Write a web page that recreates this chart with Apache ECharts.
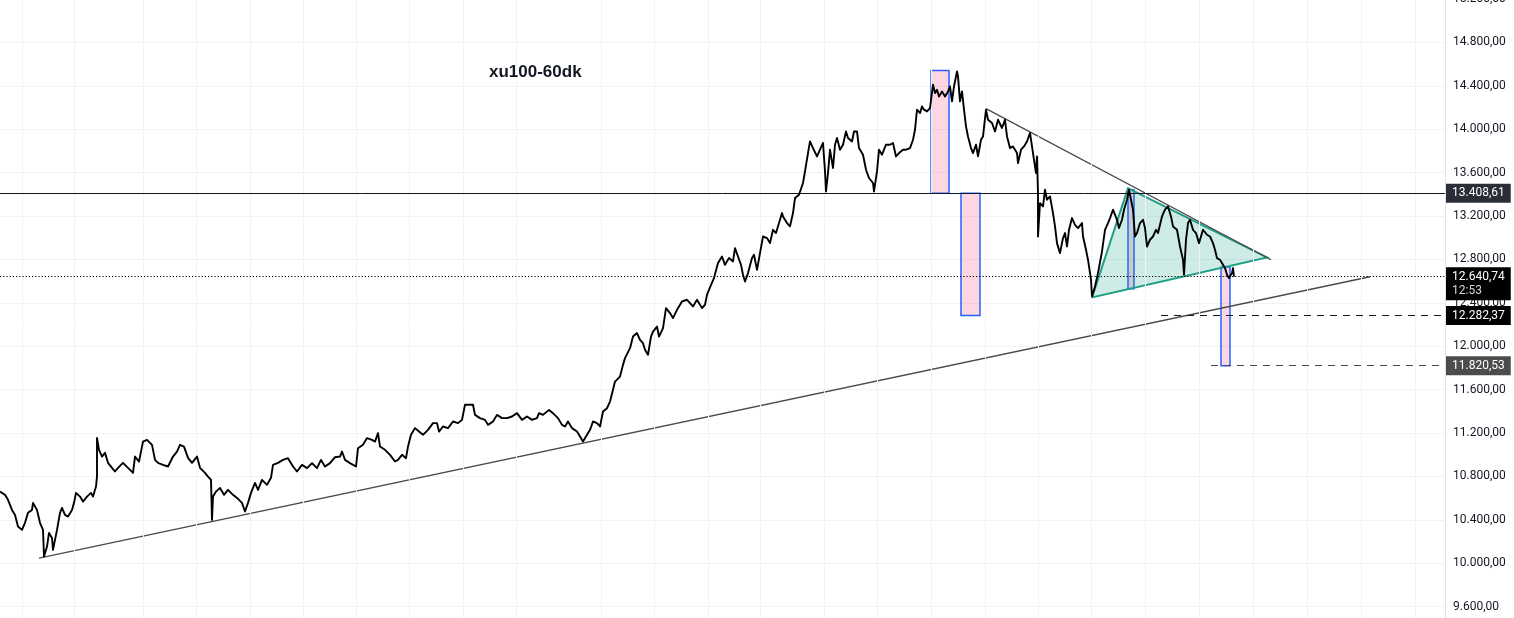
<!DOCTYPE html>
<html>
<head>
<meta charset="utf-8">
<script src="https://cdn.jsdelivr.net/npm/echarts@6/dist/echarts.min.js"></script>
<style>
html,body{margin:0;padding:0;background:#fff;overflow:hidden;width:1514px;height:618px;}
#chart{position:absolute;left:0;top:-0.7px;width:1514px;height:651px;}
</style>
</head>
<body>
<div id="chart"></div>
<script>
// ---- DATA ----
const chartTitle = 'xu100-60dk';
// bar index (hourly bars) and close price
const barIndex = [0,5,8,12,15,18,22,25,28,32,33,37,40,43,44,47,49,52,53,55,57,60,62,65,68,72,74,76,80,83,87,91,93,96,97,97,99,102,105,108,112,115,118,123,128,133,135,139,143,147,152,155,158,163,168,173,177,180,184,188,192,197,200,205,208,211,212,213,216,220,224,228,233,237,242,245,248,251,255,258,262,267,271,273,278,283,288,293,297,302,307,312,317,321,325,330,335,340,342,345,350,356,358,363,367,372,375,378,380,385,390,395,398,402,406,408,411,415,419,423,428,433,437,439,443,448,453,458,462,465,470,473,475,480,485,488,493,497,502,507,512,517,522,527,532,537,539,543,549,553,558,562,565,568,572,577,580,583,586,590,593,597,600,603,607,610,613,615,620,623,625,630,633,637,640,643,645,648,651,653,657,659,663,666,670,673,677,682,687,690,693,697,702,705,707,711,714,718,722,725,729,733,735,738,741,743,745,748,752,754,757,760,763,767,770,773,776,779,782,783,787,790,793,795,799,803,805,808,810,813,817,820,823,825,826,828,830,833,835,837,840,843,846,848,852,854,857,859,863,866,869,873,874,877,879,882,886,890,893,896,899,903,906,910,913,915,917,920,922,924,927,930,933,935,937,939,942,945,948,950,952,954,957,958,960,962,964,966,968,971,973,976,978,981,983,986,988,992,995,998,1002,1005,1007,1010,1013,1017,1018,1021,1024,1027,1030,1032,1034,1036,1037,1038,1038,1040,1043,1045,1047,1050,1053,1055,1057,1060,1063,1065,1067,1069,1072,1075,1078,1082,1083,1086,1088,1091,1092,1095,1098,1102,1105,1108,1110,1113,1117,1119,1122,1124,1127,1129,1131,1133,1135,1137,1140,1143,1145,1147,1150,1153,1156,1158,1162,1165,1168,1171,1173,1177,1180,1183,1184,1186,1188,1190,1193,1196,1199,1203,1205,1207,1210,1213,1215,1217,1220,1223,1225,1227,1229,1232,1233,1234];
const closes = [10660,10630,10584,10491,10445,10338,10307,10372,10464,10491,10556,10491,10372,10307,10061,10153,10279,10233,10123,10215,10307,10464,10510,10445,10430,10491,10556,10648,10614,10568,10614,10648,10614,10706,10798,11155,11045,10983,11017,10925,10879,10845,10879,10925,10879,10833,10983,10937,11121,11137,11091,10952,10925,10906,10891,10983,11029,11091,11075,10971,10925,10983,10879,10833,10798,10768,10399,10614,10660,10694,10630,10676,10630,10602,10556,10476,10556,10648,10740,10676,10768,10722,10787,10906,10925,10952,10968,10891,10845,10906,10876,10922,10876,10952,10891,10922,10977,10983,11029,10952,10922,10891,11060,11091,11153,11137,11121,11199,11075,11045,10999,10937,10952,10999,10968,11075,11183,11245,11213,11183,11229,11291,11291,11213,11260,11245,11306,11291,11321,11460,11460,11460,11367,11337,11321,11275,11306,11367,11337,11337,11352,11383,11321,11352,11321,11337,11383,11367,11413,11383,11337,11275,11260,11306,11245,11213,11167,11121,11167,11229,11306,11291,11260,11398,11429,11490,11598,11674,11720,11828,11890,11982,12089,12121,12059,12028,11967,11921,12089,12135,12181,12089,12167,12351,12305,12259,12335,12412,12428,12397,12366,12428,12351,12382,12474,12566,12628,12766,12827,12750,12812,12781,12904,12827,12750,12658,12596,12674,12812,12843,12704,12858,13011,12997,12950,13073,13043,13135,13227,13196,13135,13104,13227,13365,13396,13504,13611,13780,13887,13826,13749,13811,13873,13611,13426,13596,13811,13642,13857,13919,13811,13857,13979,13919,13887,13979,13979,13826,13765,13626,13550,13504,13426,13611,13811,13765,13857,13857,13873,13749,13780,13811,13811,13826,13903,13995,14180,14149,14210,14180,14164,14195,14410,14334,14364,14302,14348,14302,14348,14394,14256,14394,14533,14487,14256,14348,14180,14026,13933,13826,13780,13857,13749,13903,13933,14180,14087,14057,13979,14087,14011,14087,13933,13826,13841,13780,13688,13811,13841,13887,13965,13841,13718,13596,13749,13411,13011,13319,13288,13442,13350,13380,13227,13104,12950,12858,12997,13043,12919,13073,13181,13119,13089,13135,13011,12889,12797,12612,12458,12550,12674,12873,13073,13135,13181,13258,13165,13089,13165,13258,13350,13442,13350,13258,13011,13043,13135,13165,13089,12919,12981,13011,13073,13043,13196,13258,13288,13196,13104,13073,12919,12797,12658,12981,13135,13165,13073,13043,12950,13073,13089,13027,13011,12950,12889,12812,12797,12750,12720,12658,12628,12674,12720,12640.74];

const yTicksMin = 9200, yTicksMax = 15200, yTickStep = 400;
const lastBarSlot = 1445;               // right end of the time axis
const timeGridBars = [22,74,143,196,250,303,356,409,463,516,601,654,708,760,824,877,931,985,1038,1091,1145,1199,1253,1307,1361,1415];

const resistanceLevel = 13408.61;
const lastPrice = 12640.74;
const lastPriceCountdown = '12:53';
const target1 = 12282.37, target1FromBar = 1161;
const target2 = 11820.53, target2FromBar = 1211;

const supportTrend = [[39, 10046], [1370, 12640]];
const upperTrend = [[986, 14189], [1271, 12797]];
const trianglePts = [1092, 12449, 1128, 13457, 1267, 12818];
// [fromBar, toBar, low, high]
const boxes = [
  [931, 949, 13408.61, 14540],
  [961, 980, 12282.37, 13408.61],
  [1128, 1134, 12529, 13442],
  [1221, 1230, 11820.53, 12729]
];

// ---- helpers ----
function fmt(v) {
  const s = Number(v).toFixed(2);
  let [i, d] = s.split('.');
  i = i.replace(/\B(?=(\d{3})+(?!\d))/g, '.');
  return i + ',' + d;
}

const chart = echarts.init(document.getElementById('chart'), null, {renderer: 'canvas'});
const FONT = 'Roboto, "Liberation Sans", sans-serif';

const badgeLabel = {
  show: true, position: 'end', distance: 1,
  color: '#ffffff', fontSize: 12, fontFamily: FONT,
  padding: [3, 6, 2, 6], lineHeight: 14
};

const option = {
  animation: false,
  backgroundColor: '#ffffff',
  title: {
    text: chartTitle, left: 484, top: 60,
    textStyle: {fontSize: 17, fontWeight: 'bold', color: '#131722', fontFamily: '"Liberation Sans", Arial, sans-serif'}
  },
  grid: {left: 0, right: 69, top: 0, bottom: 0, containLabel: false, outerBoundsMode: 'none'},
  xAxis: {type: 'value', min: 0, max: lastBarSlot, show: false},
  yAxis: {
    type: 'value', position: 'right', min: yTicksMin, max: yTicksMax, interval: yTickStep,
    axisLine: {show: true, onZero: false, lineStyle: {color: '#e0e3eb', width: 1}},
    axisTick: {show: false},
    splitLine: {show: true, lineStyle: {color: '#f0f3fa', width: 1}},
    axisLabel: {color: '#131722', fontSize: 12, fontFamily: FONT, margin: 8, formatter: v => fmt(v)}
  },
  series: [
    // time grid lines
    {
      type: 'line', data: [], silent: true, z: 0,
      markLine: {
        silent: true, symbol: ['none', 'none'], animation: false,
        lineStyle: {color: '#f0f3fa', width: 1, type: 'solid'},
        label: {show: false},
        data: timeGridBars.map(b => ({xAxis: b}))
      }
    },
    // boxes
    {
      type: 'line', data: [], silent: true, z: 2,
      markArea: {
        silent: true,
        itemStyle: {color: 'rgba(240, 70, 120, 0.22)', borderColor: '#2962ff', borderWidth: 1.5},
        data: boxes.map(b => [{coord: [b[0], b[3]]}, {coord: [b[1], b[2]]}])
      }
    },
    // triangle
    {
      type: 'custom', silent: true, z: 1,
      data: [trianglePts],
      renderItem: (params, api) => {
        const pts = [0, 1, 2].map(i => api.coord([api.value(i * 2), api.value(i * 2 + 1)]));
        return {
          type: 'polygon', shape: {points: pts},
          style: {fill: 'rgba(8, 153, 129, 0.2)', stroke: '#1e9e84', lineWidth: 2}
        };
      }
    },
    // trend lines
    {
      type: 'line', data: supportTrend, showSymbol: false, silent: true, z: 4,
      lineStyle: {color: '#4a4a4a', width: 1.3}
    },
    {
      type: 'line', data: upperTrend, showSymbol: false, silent: true, z: 4,
      lineStyle: {color: '#4a4a4a', width: 1.3}
    },
    // price
    {
      type: 'line', data: barIndex.map((t, i) => [t, closes[i]]),
      showSymbol: false, silent: true, z: 5,
      lineStyle: {color: '#000000', width: 1.9, join: 'round'}
    },
    // horizontal levels with price badges
    {
      type: 'line', data: [], silent: true, z: 6,
      markLine: {
        silent: true, symbol: ['none', 'none'], animation: false, precision: 2,
        data: [
          {yAxis: resistanceLevel, lineStyle: {color: '#131722', width: 1, type: 'solid'},
           label: Object.assign({}, badgeLabel, {formatter: fmt(resistanceLevel), backgroundColor: '#2a2e39'})},
          {yAxis: lastPrice, lineStyle: {color: '#000000', width: 1, type: [1.2, 2]},
           label: Object.assign({}, badgeLabel, {
             formatter: '{a|' + fmt(lastPrice) + '}\n{b|' + lastPriceCountdown + '}',
             backgroundColor: '#000000', offset: [0, 7],
             rich: {a: {color: '#ffffff', fontSize: 12, fontFamily: FONT, lineHeight: 14},
                    b: {color: '#d1d4dc', fontSize: 12, fontFamily: FONT, lineHeight: 14}}
           })},
          [
            {coord: [target1FromBar, target1], lineStyle: {color: '#131722', width: 1, type: [7, 6]},
             label: Object.assign({}, badgeLabel, {formatter: fmt(target1), backgroundColor: '#000000'})},
            {coord: [lastBarSlot, target1]}
          ],
          [
            {coord: [target2FromBar, target2], lineStyle: {color: '#4a4a4a', width: 1, type: [7, 6]},
             label: Object.assign({}, badgeLabel, {formatter: fmt(target2), backgroundColor: '#4c4c4c'})},
            {coord: [lastBarSlot, target2]}
          ]
        ]
      }
    }
  ]
};
chart.setOption(option);
</script>
</body>
</html>
